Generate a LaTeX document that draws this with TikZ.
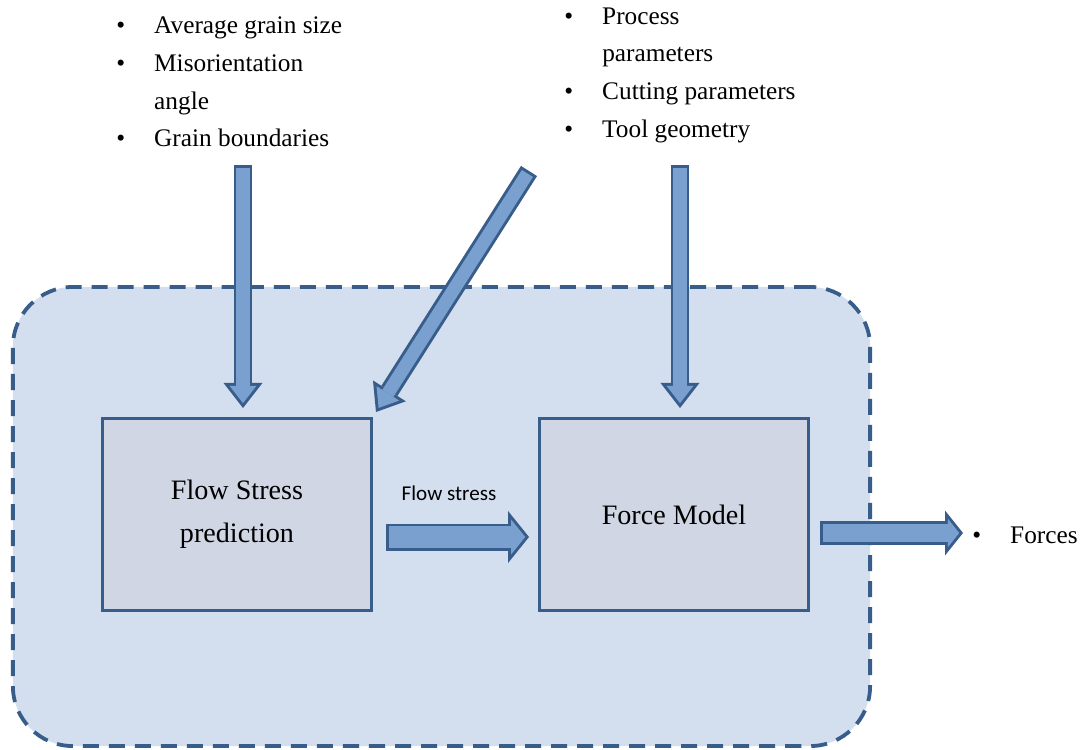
\documentclass[tikz,border=0pt]{standalone}
\usepackage{fontspec}
\setmainfont{Liberation Serif}
\newfontfamily\labelfont{Carlito}
\usetikzlibrary{arrows.meta}

\definecolor{edgeblue}{RGB}{56,93,138}
\definecolor{arrowblue}{RGB}{122,160,208}
\definecolor{regionblue}{RGB}{211,222,239}
\definecolor{boxgray}{RGB}{208,214,227}

\newcommand\listbullet{\makebox[27pt][l]{\textbullet}}

\begin{document}
\begin{tikzpicture}[x = 0.025cm, y = -0.025cm,
    region/.style = {draw = edgeblue, fill = regionblue, line width = 2.7pt,
                     dash pattern = on 11.4pt off 7.1pt, rounded corners = 1.5cm,
                     minimum width = 21.425cm, minimum height = 11.475cm},
    procbox/.style = {draw = edgeblue, fill = boxgray, line width = 2.3pt,
                      minimum width = 6.72cm, minimum height = 4.8cm,
                      align = center, font = \fontsize{20}{30.5}\selectfont},
    listtext/.style = {anchor = west, align = left, inner sep = 0pt,
                       font = \fontsize{18}{26.8}\selectfont},
    shaftout/.style n args = {3}{draw = edgeblue, line width = #1,
                                 -{Triangle[width = #2, length = #3, line width = 0pt]}},
    shaftin/.style n args = {4}{draw = arrowblue, line width = #1,
                                shorten <= 2.1pt, shorten >= #4,
                                -{Triangle[width = #2, length = #3, line width = 0pt]}}]
    \useasboundingbox (0,0) rectangle (1088,750);

    \node [region] (model) at (441.5, 516.5) {};
    \node [procbox] (stress) at (237, 514.5) {\raisebox{-4pt}{Flow Stress}\\\raisebox{-4pt}{prediction}};
    \node [procbox] (force) at (674, 514.5) {Force Model};

    \node [listtext] (micro) at (116, 82) {\listbullet Average grain size\\
        \listbullet Misorientation\\ \hspace*{27pt}angle\\ \listbullet Grain boundaries};
    \node [listtext] (process) at (564, 75) {\listbullet Process\\
        \hspace*{27pt}parameters\\ \listbullet Cutting parameters\\ \listbullet Tool geometry};
    \node [listtext] (forces) at (972, 535) {\listbullet Forces};
    \node [font = \labelfont\fontsize{15}{18}\selectfont] (flowlabel) at (449, 493) {Flow stress};

    \coordinate (grainIn) at (243, 165);
    \coordinate (grainTip) at (243, 408);
    \coordinate (procIn) at (529, 171);
    \coordinate (procTip) at (376, 412);
    \coordinate (cutIn) at (680, 165);
    \coordinate (cutTip) at (680, 408);
    \coordinate (stressOut) at (386, 537);
    \coordinate (stressTip) at (529, 537);
    \coordinate (forceOut) at (820, 533);
    \coordinate (forceTip) at (963, 533);

    % block arrows: dark outline first, light body on top
    \draw [shaftout = {13.5pt}{27.7pt}{17.8pt}] (grainIn) -- (grainTip);
    \draw [shaftin = {9.3pt}{19.1pt}{12.3pt}{3.42pt}] (grainIn) -- (grainTip);
    \draw [shaftout = {13.5pt}{27.7pt}{17.8pt}] (procIn) -- (procTip);
    \draw [shaftin = {9.3pt}{19.1pt}{12.3pt}{3.42pt}] (procIn) -- (procTip);
    \draw [shaftout = {13.5pt}{27.7pt}{17.8pt}] (cutIn) -- (cutTip);
    \draw [shaftin = {9.3pt}{19.1pt}{12.3pt}{3.42pt}] (cutIn) -- (cutTip);
    \draw [shaftout = {19.2pt}{37pt}{14.9pt}] (stressOut) -- (stressTip);
    \draw [shaftin = {15pt}{25.1pt}{10.1pt}{2.7pt}] (stressOut) -- (stressTip);
    \draw [shaftout = {16.4pt}{32pt}{12.8pt}] (forceOut) -- (forceTip);
    \draw [shaftin = {12.2pt}{20pt}{8pt}{2.69pt}] (forceOut) -- (forceTip);
\end{tikzpicture}
\end{document}
